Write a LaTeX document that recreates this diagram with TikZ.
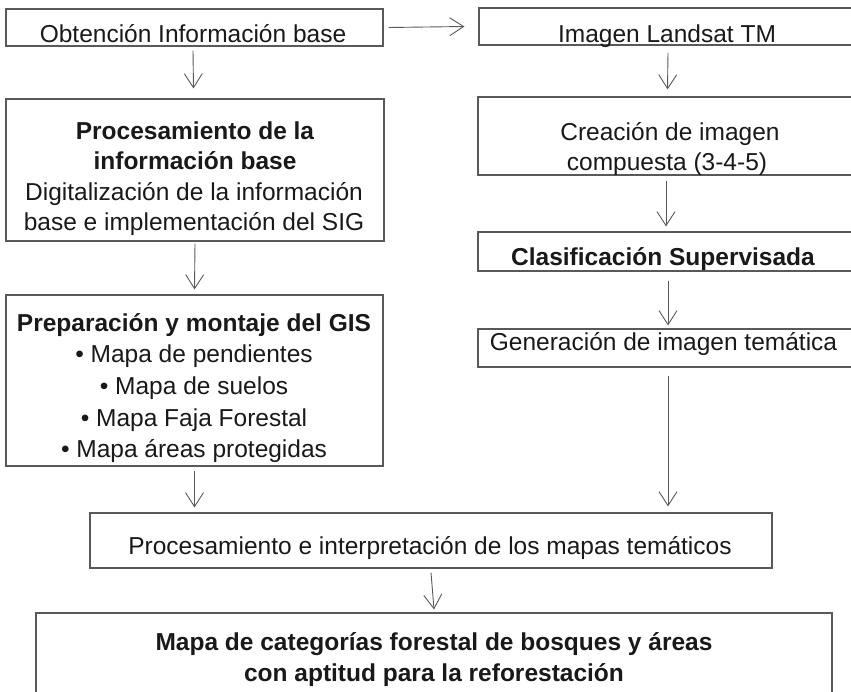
\documentclass[tikz,border=0pt]{standalone}
\usepackage{fontspec}
\setmainfont{Liberation Sans}
\usetikzlibrary{arrows.meta}
\definecolor{linegray}{gray}{0.35}
\definecolor{txt}{gray}{0.1}
\begin{document}
\begin{tikzpicture}[x=1pt,y=-1pt,
  box/.style={draw=linegray, line width=1.1pt, rectangle, inner sep=0pt},
  lbl/.style={anchor=base, inner sep=0pt, text=txt, font=\fontsize{24.5}{30}\selectfont},
  blbl/.style={lbl, font=\fontsize{24.5}{30}\selectfont\bfseries},
  arr/.style={draw=linegray, line width=0.9pt, -{Straight Barb[length=14pt,width=18pt,line width=0.9pt]}}
]
\path[use as bounding box] (0,0) rectangle (851,691);
\clip (0,0) rectangle (851,691);

% boxes
\node[box, minimum width=377pt, minimum height=37pt] (A) at (194.5,27.5) {};
\node[box, minimum width=381pt, minimum height=37pt] (B) at (669.5,26.5) {};
\node[box, minimum width=378pt, minimum height=142pt] (C) at (195,170) {};
\node[box, minimum width=377pt, minimum height=171pt] (D) at (194.5,380.5) {};
\node[box, minimum width=382pt, minimum height=78pt] (E) at (669,136) {};
\node[box, minimum width=382pt, minimum height=39pt] (F) at (669,251.5) {};
\node[box, minimum width=382pt, minimum height=38pt] (G) at (669,348) {};
\node[box, minimum width=682pt, minimum height=55pt] (P) at (431,540.5) {};
\node[box, minimum width=796pt, minimum height=127pt] (M) at (434,676.5) {};

% texts
\node[lbl] (tA) at (193,42.5) {Obtención Información base};
\node[lbl] (tB) at (667,42) {Imagen Landsat TM};
\node[blbl] (tC1) at (195,139) {Procesamiento de la};
\node[blbl] (tC2) at (195,169.5) {información base};
\node[lbl] (tC3) at (194,200) {Digitalización de la información};
\node[lbl] (tC4) at (194,230.5) {base e implementación del SIG};
\node[blbl] (tD1) at (194,331) {Preparación y montaje del GIS};
\node[lbl] (tD2) at (194,362) {• Mapa de pendientes};
\node[lbl] (tD3) at (194,394) {• Mapa de suelos};
\node[lbl] (tD4) at (194,426) {• Mapa Faja Forestal};
\node[lbl] (tD5) at (194,457) {• Mapa áreas protegidas};
\node[lbl] (tE1) at (670,140) {Creación de imagen};
\node[lbl] (tE2) at (667,170) {compuesta (3-4-5)};
\node[blbl] (tF) at (663,265) {Clasificación Supervisada};
\node[lbl] (tG) at (663.5,350.5) {Generación de imagen temática};
\node[lbl] (tP) at (430,554) {Procesamiento e interpretación de los mapas temáticos};
\node[blbl] (tM1) at (434,650) {Mapa de categorías forestal de bosques y áreas};
\node[blbl] (tM2) at (434,681.5) {con aptitud para la reforestación};

% connectors
\draw[arr] ([xshift=5pt]A.east) -- ([xshift=-14pt]B.west);
\draw[arr] ([xshift=-1.5pt,yshift=-4pt]A.south) -- ([xshift=-1.5pt,yshift=10pt]C.north);
\draw[arr] ([yshift=-2pt]C.south) -- ([yshift=5pt]D.north);
\draw[arr] ([yshift=-4pt]D.south) -- ([yshift=5pt]D.south |- P.north);
\draw[arr] ([xshift=-1.5pt,yshift=-7pt]B.south) -- ([xshift=-1.5pt,yshift=7pt]E.north);
\draw[arr] ([xshift=-3pt,yshift=-5pt]E.south) -- ([xshift=-3pt,yshift=5pt]F.north);
\draw[arr] ([xshift=-1pt,yshift=-9pt]F.south) -- ([xshift=-1pt,yshift=3pt]G.north);
\draw[arr] ([xshift=-1pt,yshift=-8pt]G.south) -- ([xshift=-1pt,yshift=6pt]G.south |- P.north);
\draw[arr] ([yshift=-4pt]P.south) -- ([yshift=3pt]M.north);
\end{tikzpicture}
\end{document}
